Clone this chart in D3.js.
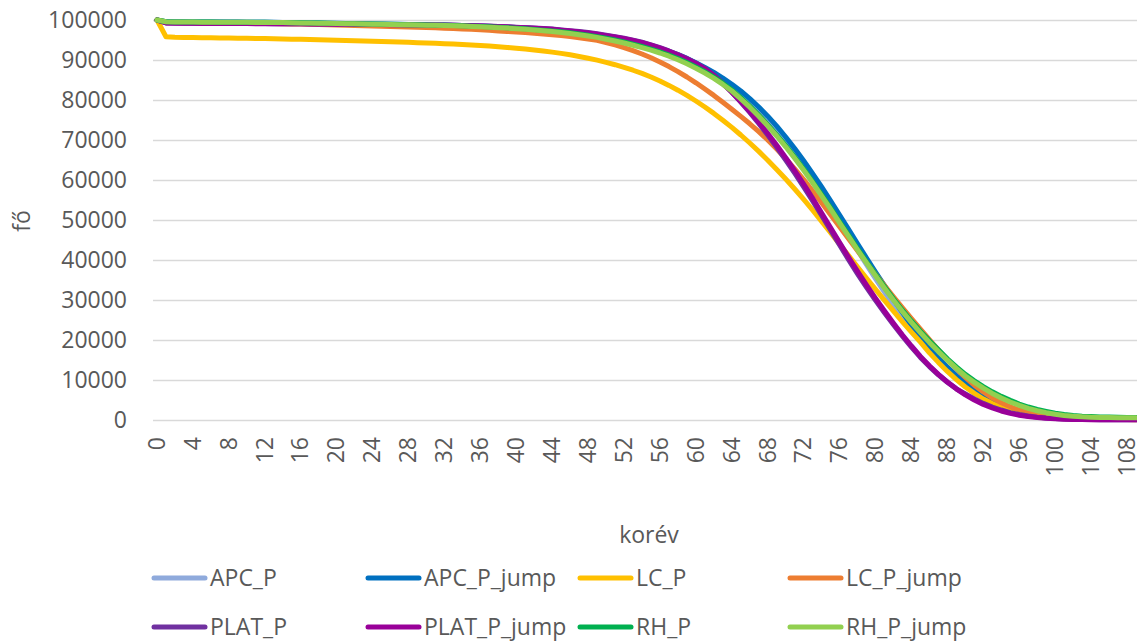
<!DOCTYPE html>
<html><head><meta charset="utf-8">
<script src="https://cdn.jsdelivr.net/npm/d3@7"></script>
<style>
html,body{margin:0;padding:0;background:#fff;}
svg text{font-family:"Open Sans",sans-serif;fill:#595959;}
</style></head><body>
<svg id="chart" width="1137" height="643"></svg>
<script>
const ages = d3.range(0, 110);
const xTickLabels = d3.range(0, 109, 4);
const yTicks = [0,10000,20000,30000,40000,50000,60000,70000,80000,90000,100000];
const seriesNames = ["APC_P","APC_P_jump","LC_P","LC_P_jump","PLAT_P","PLAT_P_jump","RH_P","RH_P_jump"];
const seriesColors = ["#8FAADC","#0070C0","#FFC000","#ED7D31","#7030A0","#990099","#00B050","#92D050"];

const APC_P = [100000,99580,99540,99520,99500,99490,99480,99470,99460,99450,
99440,99430,99420,99400,99380,99350,99310,99270,99230,99190,
99150,99110,99080,99040,99010,98970,98940,98900,98860,98820,
98780,98740,98700,98650,98600,98540,98470,98390,98300,98200,
98090,97970,97840,97690,97520,97330,97110,96860,96580,96270,
95930,95540,95110,94630,94090,93490,92820,92070,91240,90290,
89200,88000,86700,85250,83650,81900,79950,77800,75450,72900,
70150,67150,63950,60600,57100,53500,49800,46100,42450,38850,
35350,31950,28700,25600,22650,19900,17300,14900,12700,10700,
8900,7300,5900,4700,3700,2850,2150,1600,1200,900,
680,520,420,360,320,300,290,285,280,278];

const APC_P_jump = [100000,99600,99560,99540,99520,99510,99500,99490,99480,99470,
99460,99450,99440,99420,99400,99370,99330,99290,99250,99210,
99170,99130,99100,99060,99030,98990,98960,98920,98880,98840,
98800,98760,98720,98670,98620,98560,98490,98410,98320,98220,
98110,97990,97860,97710,97540,97350,97130,96880,96600,96290,
95950,95570,95150,94680,94150,93560,92900,92160,91340,90400,
89300,88150,86900,85500,83950,82250,80350,78250,75950,73450,
70750,67850,64800,61600,58250,54800,51250,47650,44050,40500,
37000,33600,30250,26900,23700,20700,18000,15500,13200,11100,
9250,7600,6150,4950,3900,3050,2350,1800,1380,1050,
800,620,500,420,370,340,320,310,300,300];

const LC_P = [100000,95800,95700,95650,95610,95580,95550,95520,95490,95460,
95430,95390,95350,95310,95260,95210,95160,95110,95060,95000,
94940,94880,94820,94760,94700,94630,94560,94490,94420,94340,
94260,94170,94080,93980,93870,93750,93620,93480,93320,93150,
92960,92750,92520,92260,91970,91650,91290,90890,90450,89960,
89420,88820,88160,87440,86660,85750,84750,83650,82450,81150,
79750,78250,76650,74950,73150,71250,69250,67150,64950,62650,
60250,57750,55150,52450,49650,46800,43950,41100,38250,35450,
32650,29900,27200,24550,21950,19450,16800,14400,12150,10100,
8250,6650,5250,4100,3150,2400,1800,1320,950,680,
490,350,260,200,160,130,115,105,98,92];

const LC_P_jump = [100000,99450,99400,99370,99340,99320,99300,99280,99260,99240,
99220,99190,99160,99120,99080,99030,98980,98920,98860,98800,
98740,98680,98620,98560,98500,98440,98380,98320,98260,98190,
98120,98040,97960,97870,97770,97660,97540,97410,97270,97140,
97000,96850,96690,96510,96320,96100,95850,95580,95270,94920,
94380,93780,93100,92350,91500,90550,89500,88350,87100,85750,
84300,82750,81150,79450,77700,75900,74050,72100,70000,67750,
65350,62800,60100,57250,54300,51300,48300,45300,42300,39350,
36450,33600,30800,28050,25350,22700,20100,17550,15100,12800,
10650,8700,7000,5550,4300,3300,2500,1900,1450,1100,
840,650,510,420,360,330,310,295,285,280];

const PLAT_P = [100000,99270,99220,99200,99180,99170,99160,99150,99140,99130,
99120,99110,99100,99090,99080,99070,99060,99040,99020,99000,
98980,98960,98940,98920,98900,98880,98860,98840,98820,98800,
98780,98750,98720,98680,98640,98590,98530,98460,98380,98290,
98190,98090,97990,97880,97730,97520,97330,97110,96850,96550,
96200,95850,95450,94980,94430,93800,93080,92260,91350,90350,
89200,87850,86200,84200,81950,79500,76900,74150,71250,68200,
65000,61700,58300,54800,51150,47450,43750,40100,36550,33150,
29900,26800,23800,20950,18200,15650,13350,11300,9450,7800,
6500,5250,4150,3250,2500,1850,1380,1000,720,500,
360,260,190,140,110,90,78,70,65,62];

const PLAT_P_jump = [100000,99250,99200,99180,99160,99150,99140,99130,99120,99110,
99100,99090,99080,99070,99060,99050,99040,99020,99000,98980,
98960,98940,98920,98900,98880,98860,98840,98820,98800,98780,
98760,98730,98700,98660,98620,98570,98510,98440,98360,98260,
98150,98050,97940,97820,97660,97450,97250,97020,96760,96450,
96100,95750,95350,94880,94330,93700,92980,92160,91250,90250,
89150,87850,86150,84100,81950,79600,77100,74450,71650,68700,
65600,62350,58950,55400,51750,48050,44350,40700,37150,33700,
30400,27250,24200,21250,18500,15900,13550,11400,9500,7800,
6300,5000,3900,3000,2250,1650,1200,850,600,420,
300,210,150,110,85,70,60,52,48,45];

const RH_P = [100000,99570,99530,99510,99490,99480,99470,99460,99450,99440,
99430,99420,99410,99390,99370,99340,99300,99260,99220,99180,
99150,99110,99070,99030,98990,98950,98910,98870,98830,98790,
98760,98710,98660,98600,98540,98460,98380,98290,98180,98070,
97940,97800,97640,97460,97260,97040,96790,96510,96200,95850,
95450,95010,94520,93980,93380,92730,92020,91230,90340,89350,
88250,87050,85700,84200,82550,80600,78500,76250,73850,71300,
68600,65750,62750,59600,56350,53000,49600,46200,42850,39550,
36400,33300,30300,27450,24750,22200,19800,17550,15300,13300,
11400,9800,8350,7050,5900,4900,4000,3250,2650,2150,
1700,1380,1130,960,850,770,720,680,650,630];

const RH_P_jump = [100000,99550,99510,99490,99470,99460,99450,99440,99430,99420,
99410,99400,99390,99370,99350,99320,99280,99240,99200,99160,
99120,99080,99040,99000,98960,98920,98880,98840,98800,98760,
98710,98660,98600,98540,98470,98390,98300,98200,98090,97970,
97830,97680,97510,97320,97110,96880,96620,96330,96010,95650,
95200,94750,94250,93700,93100,92450,91750,90950,90050,89050,
87950,86750,85400,83900,82250,80300,78200,75950,73550,71000,
68300,65450,62450,59300,56050,52700,49300,45900,42550,39250,
36050,32950,29950,27100,24400,21850,19400,17100,14950,12900,
11000,9400,7950,6650,5500,4500,3650,2900,2320,1830,
1440,1150,950,800,700,640,600,570,550,540];

const seriesValues = [APC_P, APC_P_jump, LC_P, LC_P_jump, PLAT_P, PLAT_P_jump, RH_P, RH_P_jump];

const svg = d3.select("#chart");
const x = d3.scalePoint().domain(ages).range([157, 1136]);
const y = d3.scaleLinear().domain([0, 100000]).range([420, 20]);
const gridLeft = 153, gridRight = 1137;

// grid + y labels via axis
const yAxis = d3.axisLeft(y).tickValues(yTicks).tickSize(-(gridRight - gridLeft)).tickPadding(26).tickFormat(d3.format("d"));
const gy = svg.append("g").attr("transform", `translate(${gridLeft},0)`).call(yAxis);
gy.select(".domain").remove();
gy.selectAll(".tick line").attr("stroke", "#d9d9d9").attr("stroke-width", 1.3);
gy.selectAll(".tick text").attr("font-size", 23).attr("fill", "#595959").attr("font-family", "Open Sans, sans-serif");

// x labels
const xAxis = d3.axisBottom(x).tickValues(xTickLabels).tickSize(0).tickPadding(0);
const gx = svg.append("g").attr("transform", "translate(0,420)").call(xAxis);
gx.select(".domain").remove();
gx.selectAll(".tick text")
  .attr("font-size", 23).attr("fill", "#595959").attr("font-family", "Open Sans, sans-serif")
  .attr("text-anchor", "end").attr("y", 0).attr("dy", "0.36em")
  .attr("transform", "translate(-1,17) rotate(-90)");

// lines
const line = d3.line().x((d, i) => x(ages[i])).y(d => y(d));
seriesValues.forEach((vals, k) => {
  svg.append("path").datum(vals).attr("d", line)
    .attr("fill", "none").attr("stroke", seriesColors[k])
    .attr("stroke-width", 5).attr("stroke-linejoin", "round").attr("stroke-linecap", "round");
});

// axis titles
svg.append("text").attr("transform", "translate(22,221) rotate(-90)")
  .attr("text-anchor", "middle").attr("dy", "0.36em").attr("font-size", 23).text("fő");
svg.append("text").attr("x", 649).attr("y", 535).attr("dy", "0.36em")
  .attr("text-anchor", "middle").attr("font-size", 23).text("korév");

// legend
const legCols = [152, 366, 578, 788];
const legRows = [578, 627];
seriesNames.forEach((name, k) => {
  const cx = legCols[k % 4], cy = legRows[Math.floor(k / 4)];
  const g = svg.append("g");
  g.append("line").attr("x1", cx + 2).attr("x2", cx + 53).attr("y1", cy).attr("y2", cy)
    .attr("stroke", seriesColors[k]).attr("stroke-width", 5).attr("stroke-linecap", "round");
  g.append("text").attr("x", cx + 58).attr("y", cy).attr("dy", "0.36em")
    .attr("font-size", 23).text(name);
});
</script>
</body></html>
